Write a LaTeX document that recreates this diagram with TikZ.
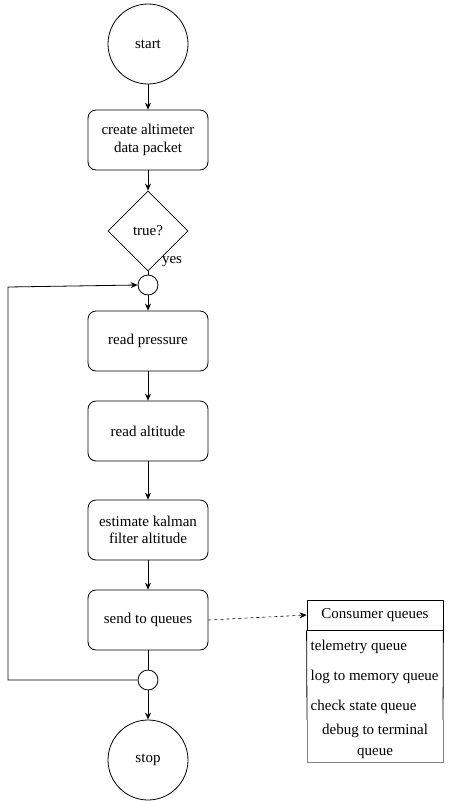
\documentclass[tikz,border=0pt]{standalone}
\usepackage{fontspec}
\setmainfont{Liberation Serif}
\usetikzlibrary{shapes.geometric,arrows.meta}
\begin{document}
\begin{tikzpicture}[x=1pt,y=-1pt,line width=0.8pt,>={Stealth[length=7pt,width=6pt]},
  every node/.style={font=\fontsize{15}{17.5}\selectfont},
  procbox/.style={draw,rounded corners=8pt,minimum width=120pt,minimum height=60pt,align=center},
  termnode/.style={draw,circle,minimum size=80pt,inner sep=0pt},
  joinnode/.style={draw,circle,minimum size=20pt,inner sep=0pt}]
\useasboundingbox (0,0) rectangle (448,801);
% main flow
\node[termnode] (start) at (148,44) {start};
\node[procbox] (create) at (148,140) {create altimeter\\data packet};
\node[draw,diamond,minimum width=80pt,minimum height=80pt,inner sep=0pt] (cond) at (148,231) {true?};
\node (yes) at (172,262) {yes};
\node[joinnode] (j1) at (148,285) {};
\node[procbox] (pres) at (148,341) {read pressure};
\node[procbox] (alt) at (148,431) {read altitude};
\node[procbox] (kal) at (148,530) {estimate kalman\\filter altitude};
\node[procbox] (send) at (148,620) {send to queues};
\node[joinnode] (j2) at (148,680) {};
\node[termnode] (stop) at (148,760) {stop};
\draw[->] (start) -- (create);
\draw[->] (create) -- (cond);
\draw (cond.south) -- (j1.north);
\draw[->] (j1) -- (pres);
\draw[->] (pres) -- (alt);
\draw[->] (alt) -- (kal);
\draw[->] (kal) -- (send);
\draw (send) -- (j2);
\draw[->] (j2) -- (stop);
% loop back
\coordinate (lp) at (8,287);
\draw[->] (j2.west) -| (lp) -- (j1.west);
% consumer queues
\node[draw,minimum width=136pt,minimum height=30pt] (head) at (375,615) {Consumer queues};
\node[anchor=west] (q1) at (307,647) {telemetry queue};
\node[anchor=west] (q2) at (307,677) {log to memory queue};
\node[anchor=west] (q3) at (307,707) {check state queue};
\node[align=center,font=\fontsize{15}{21}\selectfont] (q4) at (375,741) {debug to terminal\\queue};
\draw (head.south west) -- (307,720);
\draw (head.south east) -- (443,720);
\draw[gray] (307,720) -- (307,762) -- (443,762) -- (443,720);
\draw[->,dashed,line width=0.6pt] (send.east) -- (head.west);
\end{tikzpicture}
\end{document}
